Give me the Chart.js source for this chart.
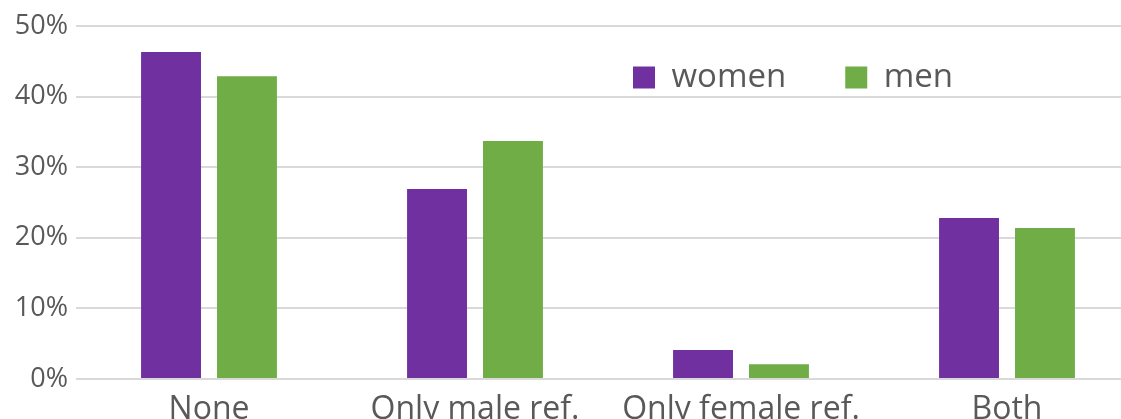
<!DOCTYPE html>
<html>
<head>
<meta charset="utf-8">
<script src="https://cdn.jsdelivr.net/npm/chart.js@4.4.0/dist/chart.umd.min.js"></script>
<style>
  html, body { margin: 0; padding: 0; background: #fff; overflow: hidden; }
  #wrap { width: 1121px; height: 419px; overflow: hidden; }
</style>
</head>
<body>
<div id="wrap"><canvas id="myChart" width="1140" height="419"></canvas></div>
<script>
// data
var categories = ["None", "Only male ref.", "Only female ref.", "Both"];
var women = [46.3, 26.9, 4.1, 22.8];
var men = [42.9, 33.7, 2.1, 21.4];
var seriesNames = ["women", "men"];
var yTicks = [0, 10, 20, 30, 40, 50];

var textColor = "#595959";
var gridColor = "#d9d9d9";

// legend sits inside the plot in the original, so it should take no room
// in the layout, and then gets moved over the bars
var legendMover = {
  id: "legendMover",
  beforeLayout: function(chart) {
    var lg = chart.legend;
    if (lg && !lg._patched) {
      var fit = lg.fit;
      lg.fit = function() {
        fit.call(this);
        this.height = 0;
      };
      lg._patched = true;
    }
  },
  afterLayout: function(chart) {
    var lg = chart.legend;
    lg.left = 574;
    lg.right = 1140;
    lg.top = 2;
    lg.bottom = 130;
    lg.height = 128;
  }
};

new Chart("myChart", {
  type: "bar",
  data: {
    labels: categories,
    datasets: [{
      label: seriesNames[0],
      data: women,
      backgroundColor: "#7030a0"
    }, {
      label: seriesNames[1],
      data: men,
      backgroundColor: "#70ad47"
    }]
  },
  options: {
    responsive: false,
    animation: false,
    categoryPercentage: 0.571,
    barPercentage: 0.789,
    layout: { padding: { top: 26, left: 0, right: 0, bottom: 0 } },
    plugins: {
      legend: {
        position: "top",
        align: "start",
        labels: {
          boxWidth: 22,
          boxHeight: 22,
          padding: 59,
          color: textColor,
          font: { family: "Open Sans", size: 33 }
        }
      },
      tooltip: { enabled: false }
    },
    scales: {
      x: {
        grid: { display: false },
        border: { display: false },
        ticks: {
          color: textColor,
          padding: 7,
          font: { family: "Open Sans", size: 32, lineHeight: 1 }
        },
        afterFit: function(scale) { scale.height = 40; }
      },
      y: {
        min: 0,
        max: 50,
        afterBuildTicks: function(scale) {
          scale.ticks = yTicks.map(function(v) { return { value: v }; });
        },
        grid: { color: gridColor, lineWidth: 2, drawTicks: false },
        border: { display: false },
        ticks: {
          color: textColor,
          padding: 8,
          font: { family: "Open Sans", size: 27 },
          callback: function(v) { return v + "%"; }
        },
        afterFit: function(scale) { scale.width = 76; }
      }
    }
  },
  plugins: [legendMover]
});
</script>
</body>
</html>
